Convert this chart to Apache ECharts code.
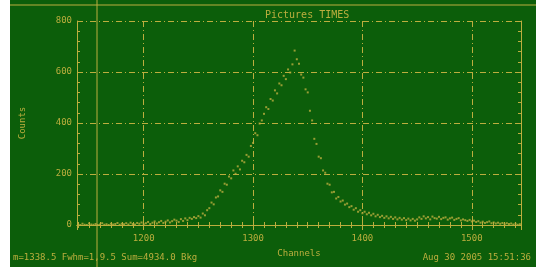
<!DOCTYPE html>
<html>
<head>
<meta charset="utf-8">
<script src="https://cdn.jsdelivr.net/npm/echarts@6/dist/echarts.min.js"></script>
<style>
html,body{margin:0;padding:0;background:#fff;}
#chart{position:absolute;left:10px;top:0;width:526px;height:267px;background:#0c5e0a;filter:blur(0.6px);}
</style>
</head>
<body>
<div id="chart"></div>
<script>
// spectrum, one value every 2 channels
var channelStart = 1140, channelStep = 2;
var counts = [
	3,0,5,1,0,6,2,1,4,0,2,7,1,3,0,5,2,4,8,1,5,3,7,2,9,4,2,8,5,10,3,
	7,12,4,9,14,6,11,16,8,13,18,10,15,21,17,12,23,16,26,19,28,24,31,27,35,
	29,45,38,58,66,88,81,108,112,136,130,162,158,190,183,214,201,230,218,252,246,275,268,310,322,
	360,352,398,410,436,462,455,494,488,528,516,555,548,585,572,610,598,630,684,650,
	632,590,578,532,520,448,410,338,318,268,262,214,205,162,158,128,130,104,110,92,96,80,84,70,74,60,66,52,58,46,
	52,42,48,38,44,34,40,31,36,28,34,26,32,24,30,22,28,21,27,19,25,18,24,17,22,
	30,24,34,26,31,22,33,27,25,32,23,28,30,21,26,29,20,24,27,18,22,19,16,20,14,
	17,12,15,9,13,8,11,14,7,10,6,9,5,8,3,7,4,6,2,5,1,3
];
var titleText = 'Pictures TIMES';
var infoText = 'm=1338.5 Fwhm=1,9.5 Sum=4934.0 Bkg';
var dateText = 'Aug 30 2005 15:51:36';

var ink = '#bcae3e';
var font = 'DejaVu Sans Mono';

function drowChart(){
	var myChart = echarts.init(document.getElementById('chart'));
	var points = [];
	for (var i = 0; i < counts.length; i++) {
		points.push([channelStart + i * channelStep, counts[i]]);
	}
	var gridLine = {show: true, lineStyle: {color: ink, width: 1, type: [6, 3, 1, 3]}};
	option = {
		backgroundColor: '#0c5e0a',
		animation: false,
		textStyle: {fontFamily: font},
		title: {
			text: titleText, left: 250, top: 5,
			textStyle: {color: ink, fontSize: 10, fontWeight: 'normal', fontFamily: font}
		},
		grid: {left: 64, right: 15, top: 21, bottom: 42},
		xAxis: [{
			type: 'value', min: 1139, max: 1545, splitNumber: 4,
			name: 'Channels', nameLocation: 'middle', nameGap: 24,
			nameTextStyle: {color: ink, fontSize: 9, fontFamily: font},
			axisLine: {show: true, lineStyle: {color: ink}},
			axisTick: {inside: true, length: 5, lineStyle: {color: ink}},
			minorTick: {show: true, splitNumber: 10, length: 3, lineStyle: {color: ink}},
			axisLabel: {
				color: ink, fontSize: 9, fontFamily: font, margin: 9, showMinLabel: false, showMaxLabel: false,
				formatter: function (v) { return String(v); }
			},
			splitLine: gridLine
		}, {
			type: 'value', position: 'top', min: 1139, max: 1545, splitNumber: 4,
			axisLine: {show: true, lineStyle: {color: ink}},
			axisTick: {inside: true, length: 5, lineStyle: {color: ink}},
			minorTick: {show: true, splitNumber: 10, length: 3, lineStyle: {color: ink}},
			axisLabel: {show: false}, splitLine: {show: false}
		}],
		yAxis: [{
			type: 'value', min: 0, max: 800, interval: 200,
			name: 'Counts', nameLocation: 'middle', nameGap: 50,
			nameTextStyle: {color: ink, fontSize: 9, fontFamily: font},
			axisLine: {show: true, lineStyle: {color: ink}},
			axisTick: {inside: true, length: 5, lineStyle: {color: ink}},
			minorTick: {show: true, splitNumber: 5, length: 3, lineStyle: {color: ink}},
			axisLabel: {color: ink, fontSize: 9, fontFamily: font, margin: 5},
			splitLine: gridLine
		}, {
			type: 'value', position: 'right', min: 0, max: 800, interval: 200,
			axisLine: {show: true, lineStyle: {color: ink}},
			axisTick: {inside: true, length: 5, lineStyle: {color: ink}},
			minorTick: {show: true, splitNumber: 5, length: 3, lineStyle: {color: ink}},
			axisLabel: {show: false}, splitLine: {show: false}
		}],
		graphic: [
			// scan crosshair left on the picture
			{type: 'line', shape: {x1: 87, y1: 0, x2: 87, y2: 267}, style: {stroke: ink, lineWidth: 1}, silent: true},
			{type: 'line', shape: {x1: 0, y1: 5, x2: 526, y2: 5}, style: {stroke: ink, lineWidth: 1}, silent: true},
			{type: 'text', left: 3, top: 253, style: {text: infoText, fill: ink, font: '9px ' + font}},
			{type: 'text', right: 5, top: 253, style: {text: dateText, fill: ink, font: '9px ' + font}}
		],
		series: [{
			type: 'scatter',
			symbol: 'rect',
			symbolSize: 2,
			itemStyle: {color: ink},
			data: points
		}]
	};
	myChart.setOption(option);
}
drowChart();
</script>
</body>
</html>
